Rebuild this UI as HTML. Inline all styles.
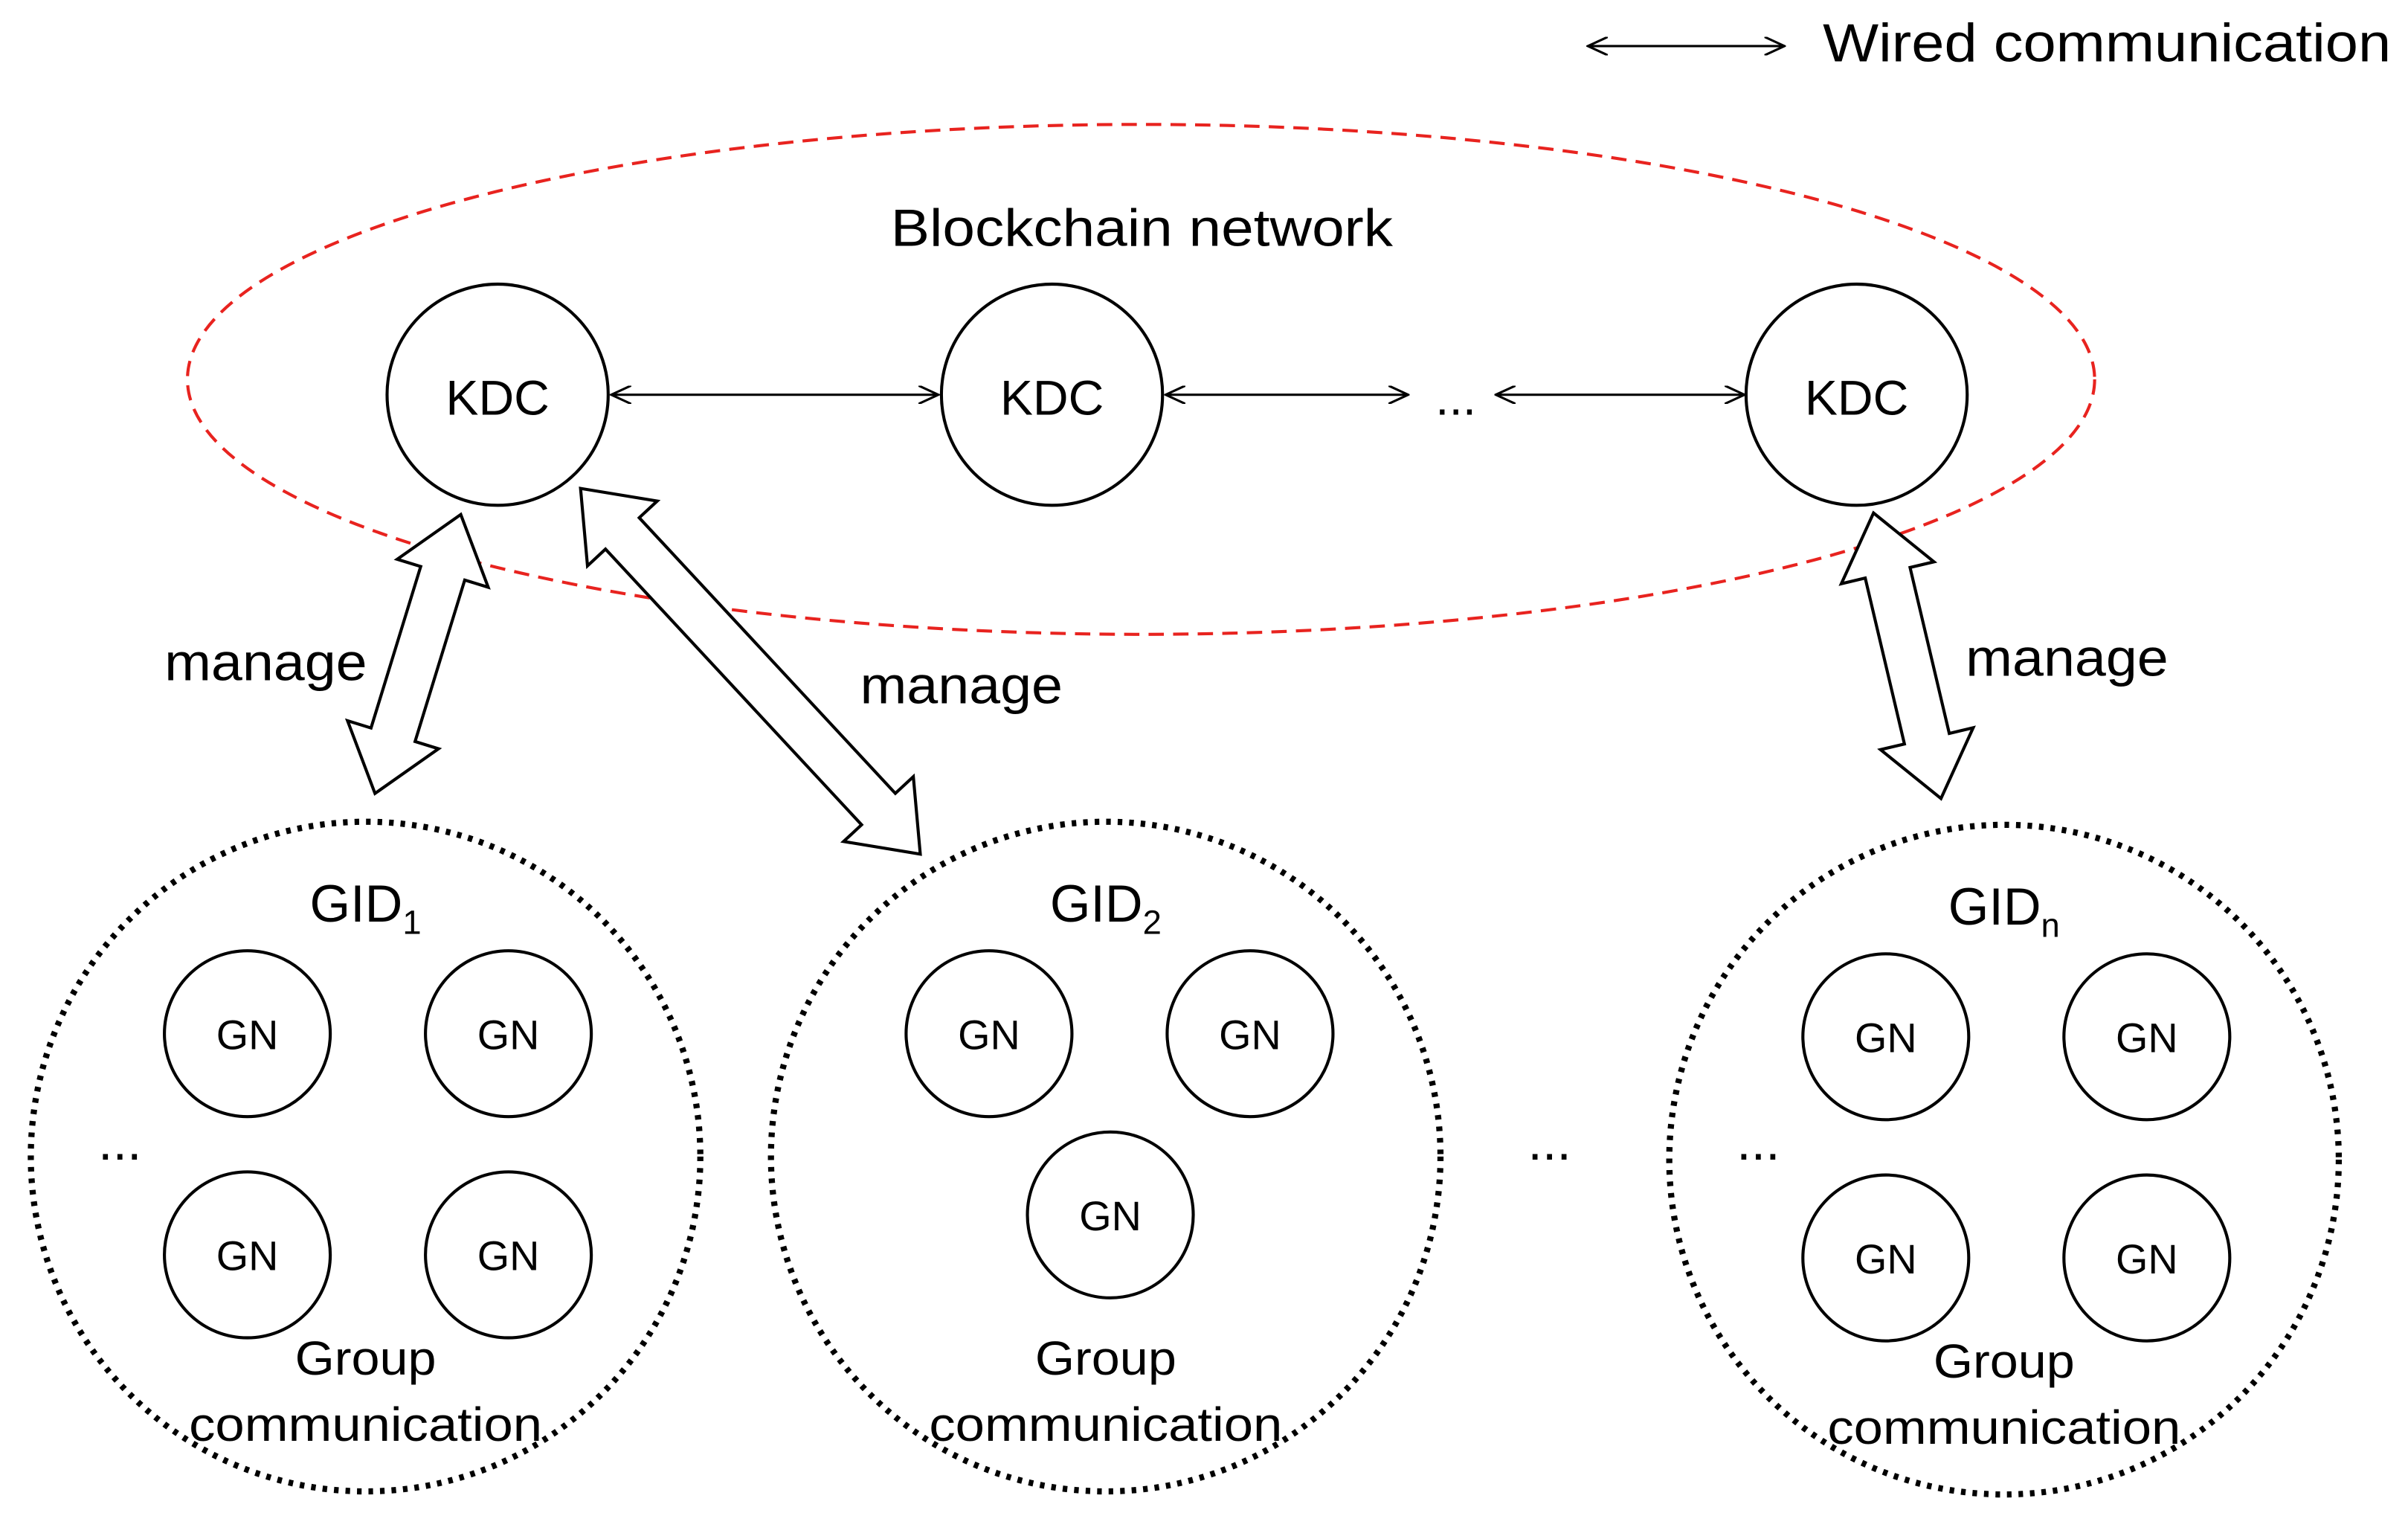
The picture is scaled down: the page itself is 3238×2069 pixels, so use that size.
<!DOCTYPE html>
<html><head><meta charset="utf-8"><style>
html,body{margin:0;padding:0;background:#fff;}
svg{display:block;}
text{font-family:"Liberation Sans",sans-serif;fill:#000;}
</style></head><body>
<svg width="3238" height="2069" viewBox="0 0 1568 1002" xmlns="http://www.w3.org/2000/svg">
<defs>
<marker id="ah" markerWidth="14" markerHeight="12" refX="13" refY="6" orient="auto-start-reverse" markerUnits="userSpaceOnUse">
<path d="M0,0 L13,6 L0,12" fill="none" stroke="#000" stroke-width="1.5"/>
</marker>
</defs>
<rect width="1568" height="1002" fill="#fff"/>
<line x1="1034" y1="30" x2="1162" y2="30" stroke="#000" stroke-width="1.5" marker-start="url(#ah)" marker-end="url(#ah)"/>
<text x="1187" y="40" font-size="35" textLength="370" lengthAdjust="spacingAndGlyphs">Wired communication</text>
<ellipse cx="743" cy="247" rx="621" ry="166" fill="none" stroke="#e8231f" stroke-width="2" stroke-dasharray="10,6"/>
<text x="580" y="160" font-size="34" textLength="327" lengthAdjust="spacingAndGlyphs">Blockchain network</text>
<g fill="#fff" stroke="#000" stroke-width="2">
<circle cx="324" cy="257" r="72"/><circle cx="685" cy="257" r="72"/><circle cx="1209" cy="257" r="72"/>
</g>
<g font-size="32" text-anchor="middle">
<text x="324" y="270">KDC</text><text x="685" y="270">KDC</text><text x="1209" y="270">KDC</text>
<text x="948" y="270">...</text>
</g>
<g stroke="#000" stroke-width="1.5">
<line x1="398" y1="257" x2="611" y2="257" marker-start="url(#ah)" marker-end="url(#ah)"/>
<line x1="759" y1="257" x2="917" y2="257" marker-start="url(#ah)" marker-end="url(#ah)"/>
<line x1="974" y1="257" x2="1136" y2="257" marker-start="url(#ah)" marker-end="url(#ah)"/>
</g>
<g fill="#fff" stroke="#000" stroke-width="2">
<g transform="translate(300,335) rotate(107.1)">
<polygon points="0,0 40,-31 40,-15 150,-15 150,-31 190,0 150,31 150,15 40,15 40,31"/>
</g>
<g transform="translate(378,318) rotate(47.1)">
<polygon points="0,0 40,-31 40,-15 285,-15 285,-31 325,0 285,31 285,15 40,15 40,31"/>
</g>
<g transform="translate(1220,334) rotate(76.7)">
<polygon points="0,0 40,-31 40,-15 151,-15 151,-31 191,0 151,31 151,15 40,15 40,31"/>
</g>
</g>
<g font-size="34">
<text x="107" y="443" textLength="132" lengthAdjust="spacingAndGlyphs">manage</text>
<text x="560" y="458" textLength="132" lengthAdjust="spacingAndGlyphs">manage</text>
<text x="1280" y="440" textLength="132" lengthAdjust="spacingAndGlyphs">manage</text>
</g>
<g fill="none" stroke="#000" stroke-width="4" stroke-dasharray="3,4.5">
<circle cx="238" cy="753" r="218"/><circle cx="720" cy="753" r="218"/><circle cx="1305" cy="755" r="218"/>
</g>
<g fill="#fff" stroke="#000" stroke-width="2">
<circle cx="161" cy="673" r="54"/><circle cx="331" cy="673" r="54"/><circle cx="161" cy="817" r="54"/><circle cx="331" cy="817" r="54"/>
<circle cx="644" cy="673" r="54"/><circle cx="814" cy="673" r="54"/><circle cx="723" cy="791" r="54"/>
<circle cx="1228" cy="675" r="54"/><circle cx="1398" cy="675" r="54"/><circle cx="1228" cy="819" r="54"/><circle cx="1398" cy="819" r="54"/>
</g>
<g font-size="27" text-anchor="middle">
<text x="161" y="683">GN</text><text x="331" y="683">GN</text><text x="161" y="827">GN</text><text x="331" y="827">GN</text>
<text x="644" y="683">GN</text><text x="814" y="683">GN</text><text x="723" y="801">GN</text>
<text x="1228" y="685">GN</text><text x="1398" y="685">GN</text><text x="1228" y="829">GN</text><text x="1398" y="829">GN</text>
</g>
<g font-size="34" text-anchor="middle">
<text x="238" y="600">GID<tspan font-size="22" dy="8">1</tspan></text>
<text x="720" y="600">GID<tspan font-size="22" dy="8">2</tspan></text>
<text x="1305" y="602">GID<tspan font-size="22" dy="8">n</tspan></text>
<text x="78" y="755">...</text><text x="1009" y="755">...</text><text x="1145" y="755">...</text>
</g>
<g font-size="31">
<text x="192" y="895" textLength="92" lengthAdjust="spacingAndGlyphs">Group</text><text x="123" y="938" textLength="230" lengthAdjust="spacingAndGlyphs">communication</text>
<text x="674" y="895" textLength="92" lengthAdjust="spacingAndGlyphs">Group</text><text x="605" y="938" textLength="230" lengthAdjust="spacingAndGlyphs">communication</text>
<text x="1259" y="897" textLength="92" lengthAdjust="spacingAndGlyphs">Group</text><text x="1190" y="940" textLength="230" lengthAdjust="spacingAndGlyphs">communication</text>
</g>
</svg>
</body></html>
